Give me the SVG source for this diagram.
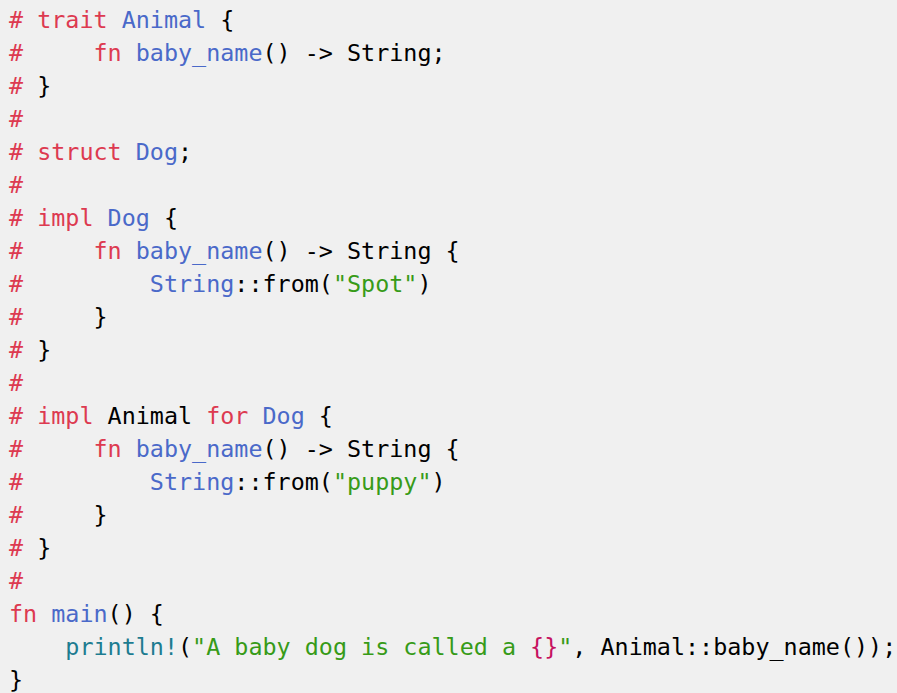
<svg xmlns="http://www.w3.org/2000/svg" width="897" height="693" viewBox="0 0 897 693">
<style>
text{font-family:"DejaVu Sans Mono","Liberation Mono",monospace;font-size:23.4px;fill:#000;white-space:pre}
.r{fill:#dd3a50}.b{fill:#4a69c9}.g{fill:#379b18}.t{fill:#1d7c90}.m{fill:#c6125f}
</style>
<rect width="897" height="693" fill="#f0f0f0"/>
<g xml:space="preserve">
<text x="9" y="28"><tspan class="r"># trait</tspan> <tspan class="b">Animal</tspan> {</text>
<text x="9" y="61"><tspan class="r">#     fn</tspan> <tspan class="b">baby_name</tspan>() -&gt; String;</text>
<text x="9" y="94"><tspan class="r">#</tspan> }</text>
<text x="9" y="127"><tspan class="r">#</tspan></text>
<text x="9" y="160"><tspan class="r"># struct</tspan> <tspan class="b">Dog</tspan>;</text>
<text x="9" y="193"><tspan class="r">#</tspan></text>
<text x="9" y="226"><tspan class="r"># impl</tspan> <tspan class="b">Dog</tspan> {</text>
<text x="9" y="259"><tspan class="r">#     fn</tspan> <tspan class="b">baby_name</tspan>() -&gt; String {</text>
<text x="9" y="292"><tspan class="r">#</tspan>         <tspan class="b">String</tspan>::from(<tspan class="g">"Spot"</tspan>)</text>
<text x="9" y="325"><tspan class="r">#</tspan>     }</text>
<text x="9" y="358"><tspan class="r">#</tspan> }</text>
<text x="9" y="391"><tspan class="r">#</tspan></text>
<text x="9" y="424"><tspan class="r"># impl</tspan> Animal <tspan class="r">for</tspan> <tspan class="b">Dog</tspan> {</text>
<text x="9" y="457"><tspan class="r">#     fn</tspan> <tspan class="b">baby_name</tspan>() -&gt; String {</text>
<text x="9" y="490"><tspan class="r">#</tspan>         <tspan class="b">String</tspan>::from(<tspan class="g">"puppy"</tspan>)</text>
<text x="9" y="523"><tspan class="r">#</tspan>     }</text>
<text x="9" y="556"><tspan class="r">#</tspan> }</text>
<text x="9" y="589"><tspan class="r">#</tspan></text>
<text x="9" y="622"><tspan class="r">fn</tspan> <tspan class="b">main</tspan>() {</text>
<text x="9" y="655">    <tspan class="t">println!</tspan>(<tspan class="g">"A baby dog is called a </tspan><tspan class="m">{}</tspan><tspan class="g">"</tspan>, Animal::baby_name());</text>
<text x="9" y="688">}</text>
</g>
</svg>
